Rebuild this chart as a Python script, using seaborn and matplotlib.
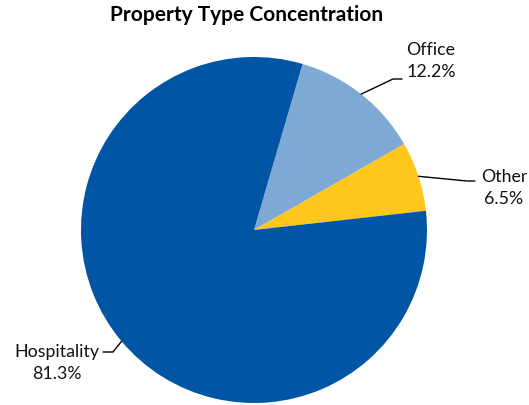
import numpy as np
import matplotlib
matplotlib.use("Agg")
import matplotlib.pyplot as plt
import seaborn as sns

categories = ["Office", "Other", "Hospitality"]
values = [12.2, 6.5, 81.3]
colors = ["#7EA9D4", "#FFC61C", "#0055A4"]
title = "Property Type Concentration"

sns.set_theme(style="white")
plt.rcParams["font.family"] = ["Lato", "DejaVu Sans"]

W, H = 529, 406
fig = plt.figure(figsize=(W / 100, H / 100), dpi=100)
cx, cy, R = 254, 231, 173
ax = fig.add_axes([(cx - R) / W, (H - cy - R) / H, 2 * R / W, 2 * R / H])

start = 73.7
wedges, _ = ax.pie(values, colors=colors, startangle=start, counterclock=False,
                   radius=1.0, wedgeprops=dict(linewidth=0))
ax.set_xlim(-1, 1)
ax.set_ylim(-1, 1)
ax.set_aspect("equal")
ax.axis("off")

def px(x, y):
    return ((x - cx) / R, (cy - y) / R)

# label layout: (elbow px, end px, text center px)
layout = {
    "Office": ((393, 80), (402, 80), (431, 61)),
    "Other": ((467, 182), (475, 182), (504, 188)),
    "Hospitality": ((113, 353), (103, 353), (57, 363)),
}
for w, cat, val in zip(wedges, categories, values):
    mid = np.deg2rad((w.theta1 + w.theta2) / 2)
    sx, sy = np.cos(mid), np.sin(mid)
    elb, end, tc = layout[cat]
    ex, ey = px(*elb)
    nx, ny = px(*end)
    ax.plot([sx, ex, nx], [sy, ey, ny], color="black", lw=1.0, clip_on=False)
    tx, ty = px(*tc)
    ax.text(tx, ty, f"{cat}\n{val:.1f}%", ha="center", va="center",
            fontsize=12.8, color="#111111", linespacing=1.5, clip_on=False)

fig.text(247 / W, 1 - 15 / H, title, ha="center", va="center",
         fontsize=15, fontweight="bold", color="black")

fig.savefig("out.png", dpi=100)
